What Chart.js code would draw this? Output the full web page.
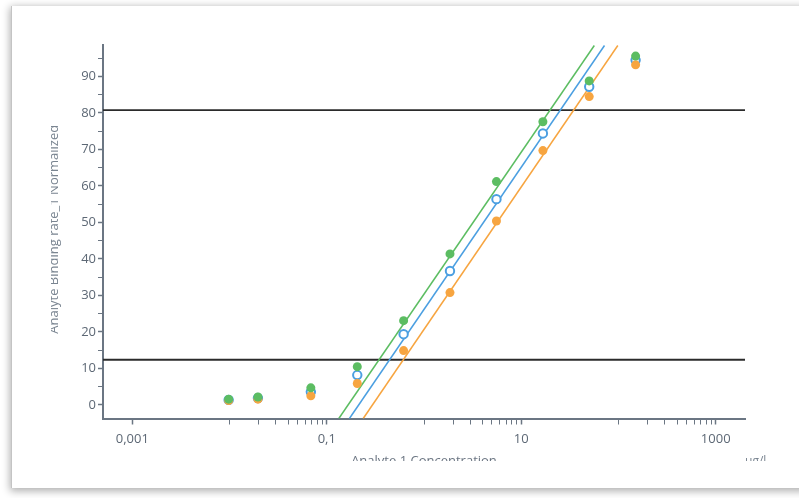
<!DOCTYPE html>
<html>
<head>
<meta charset="utf-8">
<title>Analyte 1 binding curve</title>
<script src="https://cdn.jsdelivr.net/npm/chart.js@4.4.1/dist/chart.umd.min.js"></script>
<style>
  html, body {
    margin: 0;
    padding: 0;
    width: 799px;
    height: 498px;
    overflow: hidden;
    background: #fff;
    font-family: 'Open Sans', sans-serif;
  }
  .card {
    position: absolute;
    left: 11px;
    top: 6px;
    width: 900px;
    height: 482px;
    background: #fff;
    border-left: 1px solid #c4c4c4;
    box-shadow: 0 2px 8px 1px rgba(0, 0, 0, 0.32);
  }
  /* the plot is shown through a cropped window */
  .viewport {
    position: absolute;
    left: 51px;
    top: 44px;
    width: 748px;
    height: 417px;
    overflow: hidden;
  }
  .plot {
    position: absolute;
    left: -51px;
    top: -44px;
    width: 799px;
    height: 498px;
  }
  .unit {
    position: absolute;
    left: 745px;
    top: 453px;
    font-size: 12px;
    line-height: 16px;
    color: #7a8591;
  }
</style>
</head>
<body>
<div class="card"></div>
<div class="viewport">
  <div class="plot">
    <canvas id="binding-chart"></canvas>
    <span class="unit">µg/l</span>
  </div>
</div>

<script>
// ======= DATA =======
const concentrations = [0.0098, 0.0196, 0.0686, 0.206, 0.617, 1.85, 5.56, 16.7, 50, 150];
const greenValues  = [1.6, 2.2, 4.7, 10.5, 23.1, 41.4, 61.2, 77.6, 88.8, 95.6];
const blueValues   = [1.4, 1.9, 3.6, 8.2, 19.4, 36.7, 56.4, 74.4, 87.2, 94.5];
const orangeValues = [1.2, 1.6, 2.5, 5.9, 14.9, 30.8, 50.4, 69.7, 84.5, 93.2];

// linear fits (in log concentration), given as end points [x, y]
const greenFit  = [[0.133, -3.7], [56.4, 98.5]];
const blueFit   = [[0.171, -3.7], [71.8, 98.5]];
const orangeFit = [[0.237, -3.7], [98.4, 98.5]];

// fit range limits
const upperLimit = 80.8;
const lowerLimit = 12.4;

const xRange = [0.0005, 2000];
const yRange = [-3.7, 100];
const xMajorTicks = [0.001, 0.1, 10, 1000];
const xTickLabels = ['0,001', '0,1', '10', '1000'];
const xMinorTicks = [
  0.01, 0.02, 0.03, 0.04, 0.05, 0.06, 0.07, 0.08, 0.09,
  1, 2, 3, 4, 5, 6, 7, 8, 9,
  100, 200, 300, 400, 500, 600, 700, 800, 900
];

// ======= STYLE =======
const GREEN = '#5cbd62';
const BLUE = '#4b9fe1';
const ORANGE = '#f7a540';
const AXIS = '#6b7683';
const FONT = "'Open Sans', sans-serif";

const toPoints = (xs, ys) => xs.map((x, i) => ({ x: x, y: ys[i] }));
const fromPairs = (pairs) => pairs.map(([x, y]) => ({ x: x, y: y }));

const pointSet = (data, fill, border, width, order) => ({
  data: data,
  backgroundColor: fill,
  borderColor: border,
  borderWidth: width,
  pointRadius: 4.5,
  pointHoverRadius: 4.5,
  order: order
});

const lineSet = (data, color, width, order) => ({
  data: data,
  showLine: true,
  borderColor: color,
  borderWidth: width,
  pointRadius: 0,
  pointHoverRadius: 0,
  fill: false,
  order: order
});

// ======= CHART =======
document.addEventListener('DOMContentLoaded', () => {
  const ctx = document.getElementById('binding-chart').getContext('2d');

  const datasets = [
    pointSet(toPoints(concentrations, greenValues), GREEN, GREEN, 0, 0),
    pointSet(toPoints(concentrations, orangeValues), ORANGE, ORANGE, 0, 1),
    Object.assign(pointSet(toPoints(concentrations, blueValues), '#ffffff', BLUE, 2, 2), { pointRadius: 4.2 }),
    lineSet(fromPairs(greenFit), GREEN, 1.5, 3),
    lineSet(fromPairs(blueFit), BLUE, 1.5, 3),
    lineSet(fromPairs(orangeFit), ORANGE, 1.5, 3),
    lineSet([{ x: xRange[0], y: upperLimit }, { x: xRange[1], y: upperLimit }], '#2b2b2b', 1.8, 4),
    lineSet([{ x: xRange[0], y: lowerLimit }, { x: xRange[1], y: lowerLimit }], '#2b2b2b', 1.8, 4)
  ];

  new Chart(ctx, {
    type: 'scatter',
    data: { datasets: datasets },
    options: {
      responsive: true,
      maintainAspectRatio: false,
      animation: false,
      layout: {
        padding: { left: 40, top: 40, right: 54, bottom: 29.4 }
      },
      plugins: {
        legend: { display: false },
        tooltip: { enabled: false }
      },
      scales: {
        x: {
          type: 'logarithmic',
          min: xRange[0],
          max: xRange[1],
          afterBuildTicks: (axis) => {
            axis.ticks = xMajorTicks.concat(xMinorTicks)
              .sort((a, b) => a - b)
              .map(value => ({ value: value }));
          },
          afterFit: (axis) => { axis.height = 50.1; },
          border: { color: AXIS, width: 2 },
          grid: {
            drawOnChartArea: false,
            tickLength: 6,
            tickColor: AXIS,
            tickWidth: (c) => (c.tick && xMajorTicks.includes(c.tick.value) ? 1.5 : 1)
          },
          ticks: {
            autoSkip: false,
            maxRotation: 0,
            padding: 7,
            color: '#5d6875',
            font: { family: FONT, size: 13 },
            callback: (value) => {
              const i = xMajorTicks.indexOf(value);
              return i >= 0 ? xTickLabels[i] : '';
            }
          },
          title: {
            display: true,
            text: 'Analyte 1 Concentration',
            color: '#6b7582',
            font: { family: FONT, size: 13 },
            padding: { top: 0, bottom: 0 }
          }
        },
        y: {
          min: yRange[0],
          max: yRange[1],
          afterFit: (axis) => { axis.width = 63; },
          border: { color: AXIS, width: 2 },
          grid: {
            drawOnChartArea: false,
            tickLength: 5,
            tickColor: AXIS,
            tickWidth: (c) => (c.tick && c.tick.value % 10 === 0 ? 1.5 : 1)
          },
          ticks: {
            stepSize: 5,
            includeBounds: false,
            padding: 2,
            color: '#5d6875',
            font: { family: FONT, size: 13 },
            callback: (value) => (value % 10 === 0 ? value : '')
          },
          title: {
            display: true,
            text: 'Analyte Binding rate_1 Normalized',
            color: '#7a8591',
            font: { family: FONT, size: 13 },
            padding: { top: 6.7, bottom: 0 }
          }
        }
      }
    }
  });
});
</script>
</body>
</html>
